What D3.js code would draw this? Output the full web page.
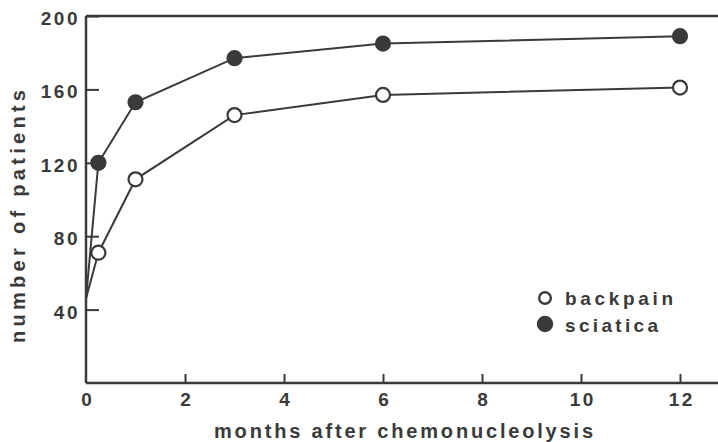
<!DOCTYPE html>
<html>
<head>
<meta charset="utf-8">
<script src="https://cdn.jsdelivr.net/npm/d3@7"></script>
<style>
  body { margin: 0; background: #fff; }
  text { font-family: "Liberation Sans", Arial, sans-serif; fill: #3a3a3a; font-weight: bold; }
</style>
</head>
<body>
<script>
// months after treatment
var months = [0, 0.25, 1, 3, 6, 12];
// number of patients
var backpain = [46, 71, 111, 146, 157, 161];
var sciatica = [46, 120, 153, 177, 185, 189];
var xTicks = [0, 2, 4, 6, 8, 10, 12];
var yTicks = [40, 80, 120, 160, 200];

window.onload = function(){
    var w = 718, h = 442;
    var ink = "#3a3a3a";

    var svg = d3.select("body").append("svg")
        .attr("width", w)
        .attr("height", h);

    var x = d3.scaleLinear().domain([0, 12]).range([86, 680]);
    var y = d3.scaleLinear().domain([0, 200]).range([383, 16]);

    //axis lines: left, bottom, top
    svg.append("line").attr("x1", x(0)).attr("x2", x(0)).attr("y1", y(200)).attr("y2", y(0))
        .attr("stroke", ink).attr("stroke-width", 2.5);
    svg.append("line").attr("x1", x(0)).attr("x2", w).attr("y1", y(0)).attr("y2", y(0))
        .attr("stroke", ink).attr("stroke-width", 2.5);
    svg.append("line").attr("x1", x(0)).attr("x2", w).attr("y1", y(200)).attr("y2", y(200))
        .attr("stroke", ink).attr("stroke-width", 2.5);

    //x ticks point up into the plot
    var xAxis = d3.axisBottom(x).tickValues(xTicks).tickSize(-9).tickPadding(10);
    var gx = svg.append("g").attr("transform", "translate(0," + y(0) + ")").call(xAxis);
    gx.select(".domain").remove();
    gx.selectAll(".tick line").attr("stroke", ink).attr("stroke-width", 2);
    gx.selectAll(".tick text").style("font-size", "19px").style("letter-spacing", "2.5px")
        .attr("dx", "1.25px")
        .attr("fill", ink);
    gx.selectAll(".tick").filter(function(d){ return d === 0; }).select("line").remove();

    //y ticks point right into the plot
    var yAxis = d3.axisLeft(y).tickValues(yTicks).tickSize(-13).tickPadding(6);
    var gy = svg.append("g").attr("transform", "translate(" + x(0) + ",0)").call(yAxis);
    gy.select(".domain").remove();
    gy.selectAll(".tick line").attr("stroke", ink).attr("stroke-width", 2);
    gy.selectAll(".tick text").style("font-size", "19px").style("letter-spacing", "2.5px")
        .attr("dy", "0.45em")
        .attr("fill", ink);

    var line = d3.line()
        .x(function(d){ return x(d[0]); })
        .y(function(d){ return y(d[1]); });

    var series = [
        { name: "backpain", vals: backpain, fill: "#fff" },
        { name: "sciatica", vals: sciatica, fill: ink }
    ];

    series.forEach(function(s){
        var pts = months.map(function(m, i){ return [m, s.vals[i]]; });
        svg.append("path")
            .datum(pts)
            .attr("d", line)
            .attr("fill", "none")
            .attr("stroke", ink)
            .attr("stroke-width", 2);
        svg.selectAll(".pt-" + s.name)
            .data(pts.slice(1))
            .enter()
            .append("circle")
            .attr("class", "pt-" + s.name)
            .attr("cx", function(d){ return x(d[0]); })
            .attr("cy", function(d){ return y(d[1]); })
            .attr("r", 7)
            .attr("fill", s.fill)
            .attr("stroke", ink)
            .attr("stroke-width", 2.2);
    });

    //legend
    var legend = svg.append("g").attr("transform", "translate(545,298)");
    series.forEach(function(s, i){
        legend.append("circle")
            .attr("cx", 0).attr("cy", i * 26)
            .attr("r", s.fill === "#fff" ? 5.8 : 7)
            .attr("fill", s.fill).attr("stroke", ink).attr("stroke-width", 2.4);
        legend.append("text")
            .attr("x", 20).attr("y", i * 27 + 7)
            .style("font-size", "19px")
            .attr("textLength", s.name === "backpain" ? 108 : 93)
            .attr("lengthAdjust", "spacing")
            .text(s.name);
    });

    //axis titles
    svg.append("text")
        .attr("x", 214).attr("y", 438)
        .style("font-size", "20px")
        .attr("textLength", 379)
        .attr("lengthAdjust", "spacing")
        .text("months after chemonucleolysis");

    svg.append("text")
        .attr("transform", "translate(25,343) rotate(-90)")
        .style("font-size", "20px")
        .attr("textLength", 253)
        .attr("lengthAdjust", "spacing")
        .text("number of patients");
};
</script>
</body>
</html>
